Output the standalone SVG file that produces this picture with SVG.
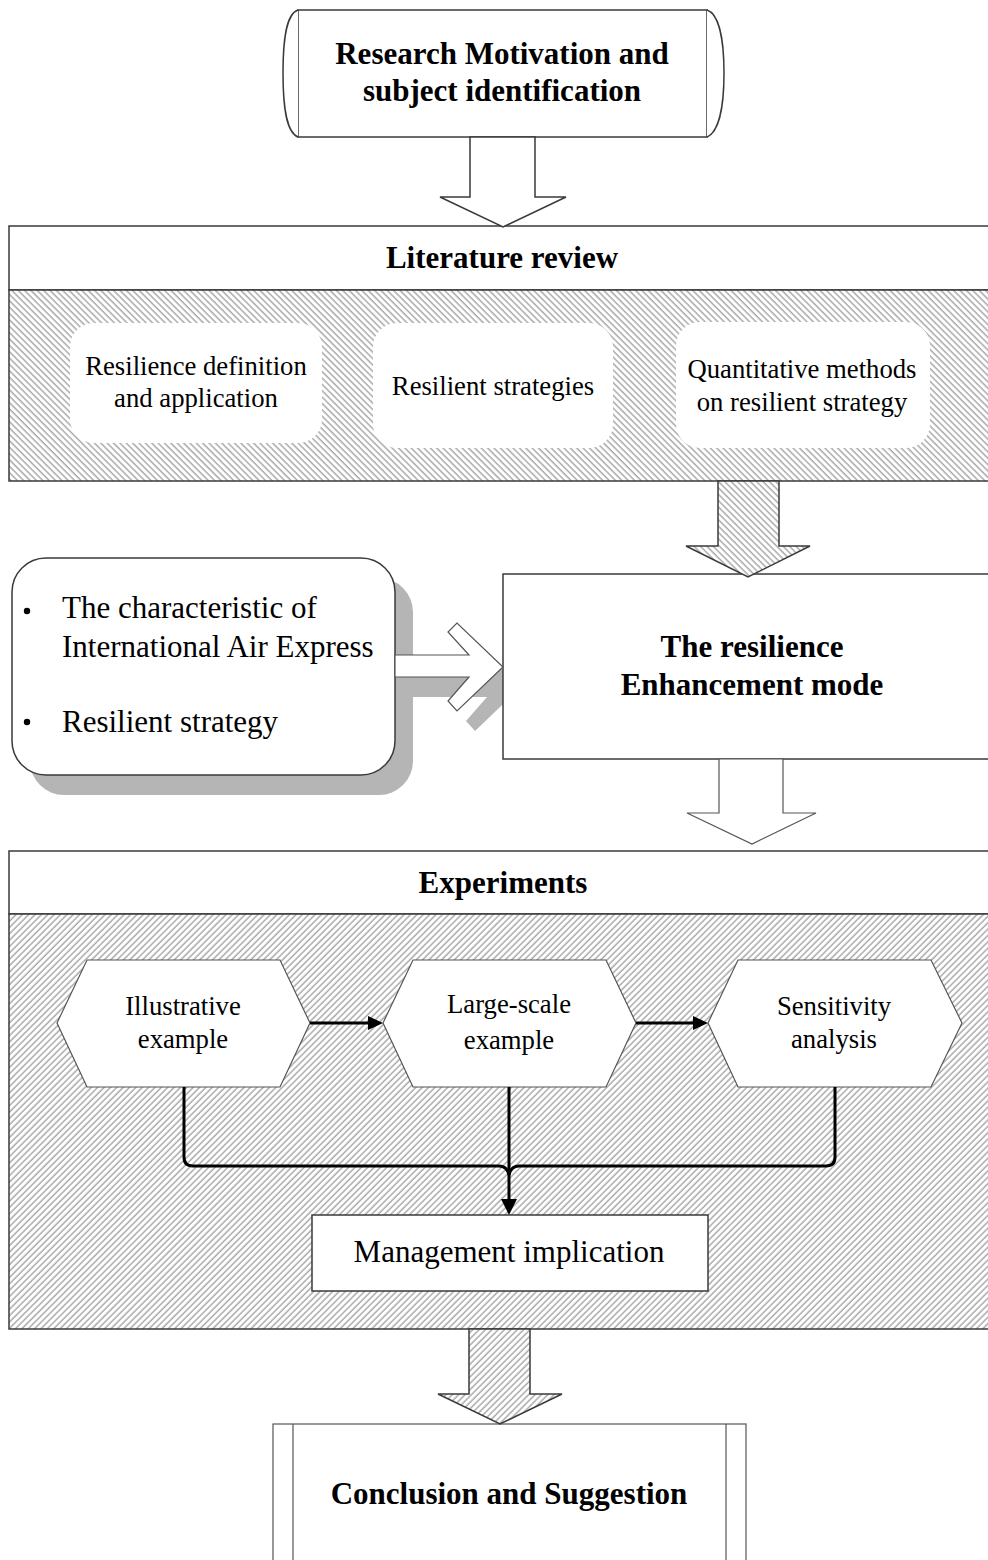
<svg xmlns="http://www.w3.org/2000/svg" width="988" height="1560" viewBox="0 0 988 1560">
<defs>
<pattern id="hatchB" patternUnits="userSpaceOnUse" width="4.5" height="10" patternTransform="rotate(-45)">
<rect width="4.5" height="10" fill="#fff"/>
<line x1="1" y1="0" x2="1" y2="10" stroke="#8c8c8c" stroke-width="1.1"/>
</pattern>
<pattern id="hatchF" patternUnits="userSpaceOnUse" width="4.5" height="10" patternTransform="rotate(45)">
<rect width="4.5" height="10" fill="#fff"/>
<line x1="1" y1="0" x2="1" y2="10" stroke="#8c8c8c" stroke-width="1.1"/>
</pattern>
</defs>
<style>
.box{fill:#fff;stroke:#3a3a3a;stroke-width:1.5}
.thin{fill:#fff;stroke:#555;stroke-width:1.2}
.inner{fill:#fff;stroke:none}
.shadow{fill:#b5b5b5;stroke:none}
.bold{font-family:"Liberation Serif","Times New Roman",serif;font-weight:bold;font-size:31px;fill:#000;text-anchor:middle}
.big{font-family:"Liberation Serif","Times New Roman",serif;font-size:31px;fill:#000}
.small{font-family:"Liberation Serif","Times New Roman",serif;font-size:26.7px;fill:#000;text-anchor:middle}
.conn{fill:none;stroke:#000;stroke-width:3}
</style>
<rect width="988" height="1560" fill="#fff"/>

<g id="research">
<rect x="298" y="10" width="409" height="127" class="box"/>
<path d="M298,10 C286,14 283,40 283,73 C283,106 286,132 298,137" class="box" fill="none"/>
<path d="M707,10 C719,14 724,40 724,73 C724,106 719,132 707,137" class="box" fill="none"/>
<text x="502" y="64" class="bold">Research Motivation and</text>
<text x="502" y="101" class="bold">subject identification</text>
</g>

<g id="literature">
<rect x="9" y="226" width="990" height="64" class="box"/>
<rect x="9" y="290" width="990" height="191" fill="url(#hatchB)" stroke="#3a3a3a" stroke-width="1.5"/>
<text x="502" y="268" class="bold">Literature review</text>
<rect x="70" y="323" width="252" height="120" rx="24" class="inner"/>
<rect x="373" y="323" width="240" height="125" rx="24" class="inner"/>
<rect x="676" y="322" width="254" height="126" rx="24" class="inner"/>
<text x="196" y="375" class="small">Resilience definition</text>
<text x="196" y="407" class="small">and application</text>
<text x="493" y="395" class="small">Resilient strategies</text>
<text x="802" y="378" class="small">Quantitative methods</text>
<text x="802" y="411" class="small">on resilient strategy</text>
</g>

<g id="inputs">
<rect x="30" y="578" width="383" height="217" rx="34" class="shadow"/>
<polygon points="413,675 487,675 466,652 475,643 521,687 475,731 466,721 487,697 413,697" class="shadow"/>
<rect x="12" y="558" width="383" height="217" rx="34" class="box"/>
<circle cx="27" cy="611" r="3.2" fill="#000"/>
<circle cx="27" cy="722" r="3.2" fill="#000"/>
<text x="62" y="618" class="big">The characteristic of</text>
<text x="62" y="657" class="big">International Air Express</text>
<text x="62" y="732" class="big">Resilient strategy</text>
</g>

<g id="enhancement">
<rect x="503" y="574" width="495" height="185" class="box"/>
<text x="752" y="657" class="bold">The resilience</text>
<text x="752" y="695" class="bold">Enhancement mode</text>
</g>

<g id="experiments">
<rect x="9" y="851" width="990" height="63" class="box"/>
<rect x="9" y="914" width="990" height="415" fill="url(#hatchF)" stroke="#3a3a3a" stroke-width="1.5"/>
<text x="503" y="893" class="bold">Experiments</text>
</g>

<g id="illustrative">
<polygon points="57,1023 87,960 280,960 310,1023 280,1087 87,1087" class="thin"/>
<text x="183" y="1015" class="small">Illustrative</text>
<text x="183" y="1048" class="small">example</text>
</g>
<g id="largescale">
<polygon points="383,1023 413,960 606,960 636,1023 606,1087 413,1087" class="thin"/>
<text x="509" y="1013" class="small">Large-scale</text>
<text x="509" y="1049" class="small">example</text>
</g>
<g id="sensitivity">
<polygon points="708,1023 738,960 931,960 962,1023 931,1087 738,1087" class="thin"/>
<text x="834" y="1015" class="small">Sensitivity</text>
<text x="834" y="1048" class="small">analysis</text>
</g>

<g id="management">
<rect x="312" y="1215" width="396" height="76" class="box"/>
<text x="509" y="1262" class="big" text-anchor="middle">Management implication</text>
</g>

<g id="conclusion">
<rect x="273" y="1424" width="473" height="150" class="thin"/>
<line x1="293" y1="1424" x2="293" y2="1560" stroke="#555" stroke-width="1.2"/>
<line x1="726" y1="1424" x2="726" y2="1560" stroke="#555" stroke-width="1.2"/>
<text x="509" y="1504" class="bold">Conclusion and Suggestion</text>
</g>

<g id="connectors">
<polygon points="470,137 470,197 440,197 503,227 566,197 535,197 535,137" class="box"/>
<polygon points="718,481 718,546 686,546 748,577 810,546 779,546 779,481" fill="url(#hatchB)" stroke="#3a3a3a" stroke-width="1.5"/>
<polygon points="395,655 469,655 448,632 457,623 503,667 457,711 448,701 469,677 395,677" class="thin"/>
<polygon points="719,759 719,813 687,813 752,844 816,813 783,813 783,759" class="thin"/>
<polygon points="469,1329 469,1394 438,1394 500,1424 562,1394 530,1394 530,1329" fill="url(#hatchF)" stroke="#3a3a3a" stroke-width="1.5"/>
<line x1="310" y1="1023" x2="370" y2="1023" class="conn"/>
<polygon points="368,1016 383,1023 368,1030" fill="#000"/>
<line x1="636" y1="1023" x2="695" y2="1023" class="conn"/>
<polygon points="693,1016 708,1023 693,1030" fill="#000"/>
<path d="M184,1087 V1157 Q184,1166 193,1166 H499 Q507,1166 509,1175" class="conn"/>
<path d="M835,1087 V1157 Q835,1166 826,1166 H519 Q511,1166 509,1175" class="conn"/>
<line x1="509" y1="1087" x2="509" y2="1201" class="conn"/>
<polygon points="501,1199 517,1199 509,1215" fill="#000"/>
</g>
</svg>
